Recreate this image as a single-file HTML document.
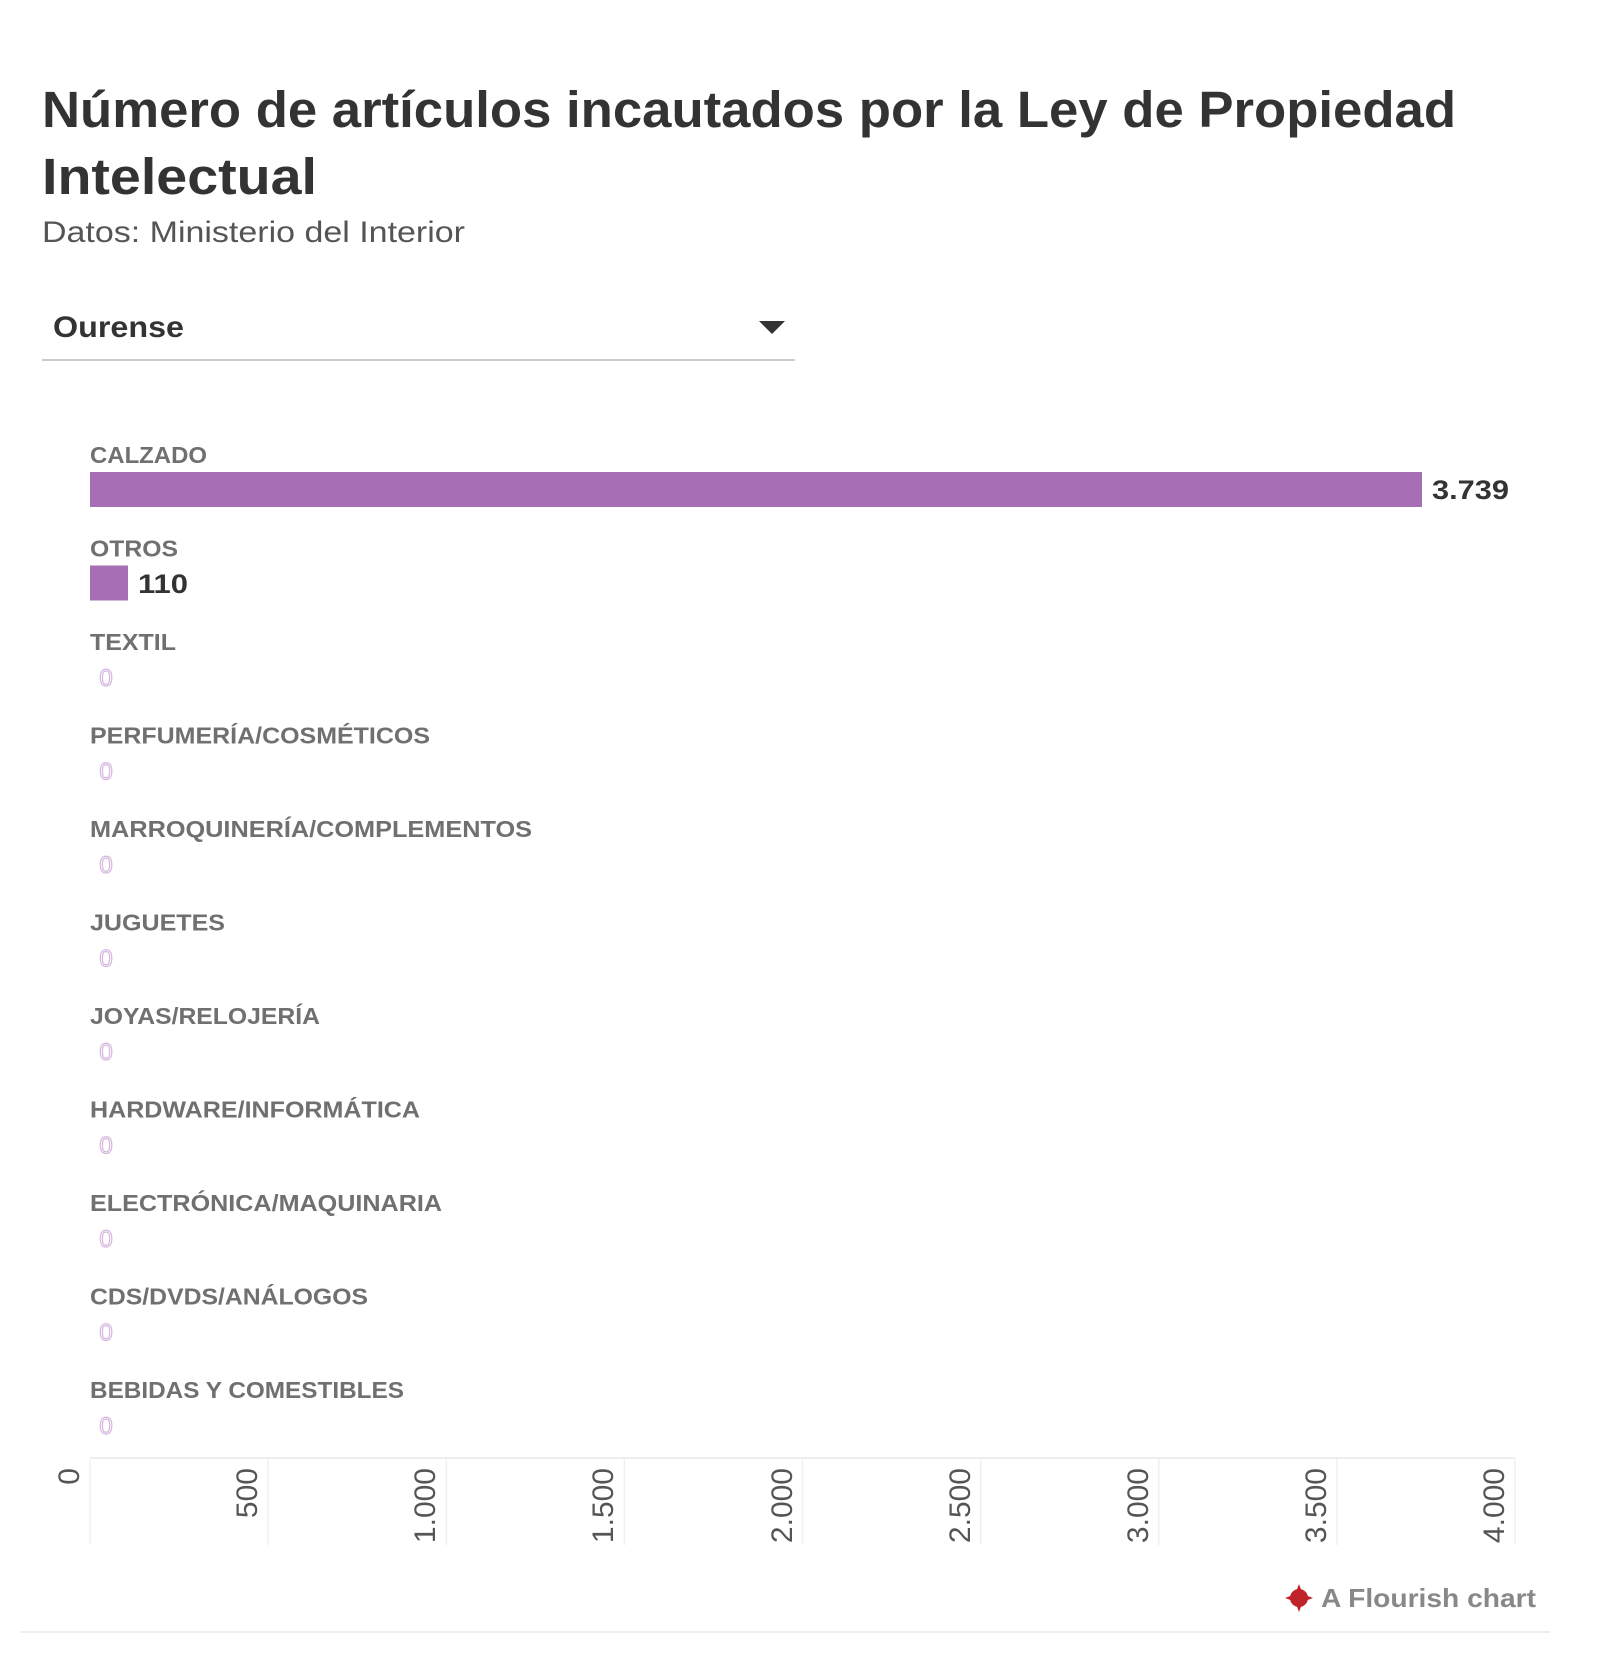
<!DOCTYPE html>
<html><head><meta charset="utf-8"><style>
html,body{margin:0;padding:0;background:#fff;}
svg{display:block;}
text{font-family:"Liberation Sans",sans-serif;}
</style></head><body>
<svg width="1600" height="1657" viewBox="0 0 1600 1657" xmlns="http://www.w3.org/2000/svg">
<rect width="1600" height="1657" fill="#fff"/>
<text x="42" y="127" font-size="51" font-weight="bold" fill="#333" textLength="1414" lengthAdjust="spacingAndGlyphs">Número de artículos incautados por la Ley de Propiedad</text>
<text x="42" y="194" font-size="51" font-weight="bold" fill="#333" textLength="275" lengthAdjust="spacingAndGlyphs">Intelectual</text>
<text x="42" y="242" font-size="30" fill="#555" textLength="423" lengthAdjust="spacingAndGlyphs">Datos: Ministerio del Interior</text>
<text x="53" y="337" font-size="30" font-weight="bold" fill="#333" textLength="131" lengthAdjust="spacingAndGlyphs">Ourense</text>
<polygon points="759,321 785,321 772,334" fill="#333"/>
<rect x="42" y="359" width="753" height="2" fill="#ccc"/>

<g font-size="23" font-weight="bold" fill="#707070">
<text x="90" y="463" textLength="117" lengthAdjust="spacingAndGlyphs">CALZADO</text>
<text x="90" y="556.5" textLength="88" lengthAdjust="spacingAndGlyphs">OTROS</text>
<text x="90" y="650" textLength="86" lengthAdjust="spacingAndGlyphs">TEXTIL</text>
<text x="90" y="743.5" textLength="340" lengthAdjust="spacingAndGlyphs">PERFUMERÍA/COSMÉTICOS</text>
<text x="90" y="837" textLength="442" lengthAdjust="spacingAndGlyphs">MARROQUINERÍA/COMPLEMENTOS</text>
<text x="90" y="930.5" textLength="135" lengthAdjust="spacingAndGlyphs">JUGUETES</text>
<text x="90" y="1024" textLength="230" lengthAdjust="spacingAndGlyphs">JOYAS/RELOJERÍA</text>
<text x="90" y="1117.5" textLength="330" lengthAdjust="spacingAndGlyphs">HARDWARE/INFORMÁTICA</text>
<text x="90" y="1211" textLength="352" lengthAdjust="spacingAndGlyphs">ELECTRÓNICA/MAQUINARIA</text>
<text x="90" y="1304.5" textLength="278" lengthAdjust="spacingAndGlyphs">CDS/DVDS/ANÁLOGOS</text>
<text x="90" y="1398" textLength="314" lengthAdjust="spacingAndGlyphs">BEBIDAS Y COMESTIBLES</text>
</g>

<rect x="90" y="472" width="1332" height="35" fill="#a66fb5"/>
<text x="1432" y="499" font-size="27" font-weight="bold" fill="#333" textLength="77" lengthAdjust="spacingAndGlyphs">3.739</text>
<rect x="90" y="565.5" width="38" height="35" fill="#a66fb5"/>
<text x="138" y="593" font-size="27" font-weight="bold" fill="#333" textLength="50" lengthAdjust="spacingAndGlyphs">110</text>

<g font-size="24" fill="#fff" stroke="#d6b8df" stroke-width="1.2" text-anchor="middle">
<text x="106" y="686">0</text>
<text x="106" y="779.5">0</text>
<text x="106" y="873">0</text>
<text x="106" y="966.5">0</text>
<text x="106" y="1060">0</text>
<text x="106" y="1153.5">0</text>
<text x="106" y="1247">0</text>
<text x="106" y="1340.5">0</text>
<text x="106" y="1434">0</text>
</g>

<rect x="90" y="1457" width="1425" height="2" fill="#eee"/>
<g stroke="#f0f0f0" stroke-width="1.5">
<line x1="90" y1="1459" x2="90" y2="1545"/>
<line x1="268.1" y1="1459" x2="268.1" y2="1545"/>
<line x1="446.3" y1="1459" x2="446.3" y2="1545"/>
<line x1="624.4" y1="1459" x2="624.4" y2="1545"/>
<line x1="802.5" y1="1459" x2="802.5" y2="1545"/>
<line x1="980.6" y1="1459" x2="980.6" y2="1545"/>
<line x1="1158.8" y1="1459" x2="1158.8" y2="1545"/>
<line x1="1336.9" y1="1459" x2="1336.9" y2="1545"/>
<line x1="1515" y1="1459" x2="1515" y2="1545"/>
</g>
<g font-size="30" fill="#555" text-anchor="end">
<text transform="translate(79,1468) rotate(-90)">0</text>
<text transform="translate(257,1468) rotate(-90)">500</text>
<text transform="translate(435,1468) rotate(-90)">1.000</text>
<text transform="translate(613,1468) rotate(-90)">1.500</text>
<text transform="translate(792,1468) rotate(-90)">2.000</text>
<text transform="translate(970,1468) rotate(-90)">2.500</text>
<text transform="translate(1148,1468) rotate(-90)">3.000</text>
<text transform="translate(1326,1468) rotate(-90)">3.500</text>
<text transform="translate(1504,1468) rotate(-90)">4.000</text>
</g>

<g transform="translate(1299,1598)" fill="#c0222a">
<circle r="9"/>
<polygon points="0,-14 3,-6 -3,-6"/><polygon points="0,14 3,6 -3,6"/>
<polygon points="-14,0 -6,3 -6,-3"/><polygon points="14,0 6,3 6,-3"/>
</g>
<text x="1321" y="1607" font-size="26" font-weight="bold" fill="#888" textLength="215" lengthAdjust="spacingAndGlyphs">A Flourish chart</text>
<rect x="20" y="1631" width="1530" height="2" fill="#eee"/>
</svg>
</body></html>
